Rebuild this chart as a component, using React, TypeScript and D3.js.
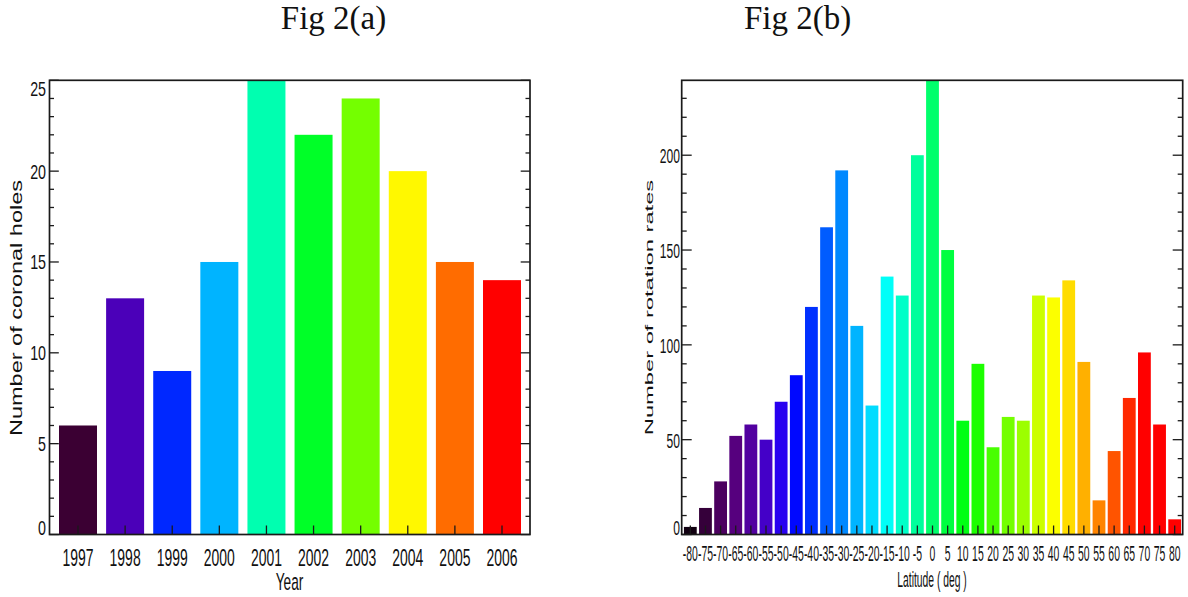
import React from "react";
import * as d3 from "d3";

// ---------- Data ----------
const years = [1997, 1998, 1999, 2000, 2001, 2002, 2003, 2004, 2005, 2006];
const coronalHoles = [6, 13, 9, 15, 25, 22, 24, 20, 15, 14];
const yearColors = [
  "#3b0033", "#4b00b9", "#0028ff", "#00b4ff", "#00ffb0",
  "#00ff28", "#74ff00", "#fff800", "#ff6c00", "#ff0000",
];
const holesMajorTicks = [0, 5, 10, 15, 20, 25];

const latitudes = [
  -80, -75, -70, -65, -60, -55, -50, -45, -40, -35, -30, -25, -20, -15, -10, -5,
  0, 5, 10, 15, 20, 25, 30, 35, 40, 45, 50, 55, 60, 65, 70, 75, 80,
];
const rotationCounts = [
  4, 14, 28, 52, 58, 50, 70, 84, 120, 162, 192, 110, 68, 136, 126, 200,
  240, 150, 60, 90, 46, 62, 60, 126, 125, 134, 91, 18, 44, 72, 96, 58, 8,
];
const latColors = [
  "#110011", "#35003a", "#4c0060", "#56007e", "#5200a0", "#4400c8", "#2800f0", "#0008ff",
  "#0030ff", "#005cff", "#0088ff", "#00b4ff", "#00dcff", "#00fff8", "#00ffc8", "#00ff9c",
  "#00ff6c", "#00ff40", "#00ff14", "#1cff00", "#48ff00", "#74ff00", "#9cff00", "#ccff00",
  "#fcff00", "#ffdc00", "#ffb000", "#ff8400", "#ff5400", "#ff2800", "#ff0000", "#ff0000",
  "#ff0000",
];
const rotMajorTicks = [0, 50, 100, 150, 200];

const SANS = "'Liberation Sans', Arial, Helvetica, sans-serif";
const SERIF = "'Liberation Serif', 'Times New Roman', serif";
const AXIS = "#1a1a1a";

function SText({ x, y, sx = 1, rot = 0, size, anchor = "middle", children, family = SANS }: any) {
  const t = `translate(${x},${y})${rot ? ` rotate(${rot})` : ""} scale(${sx},1)`;
  return (
    <text transform={t} fontSize={size} fontFamily={family} textAnchor={anchor} fill="#111">
      {children}
    </text>
  );
}

function PanelA() {
  const left = 49.5, right = 530, top = 80.3, bottom = 534.5;
  const x = d3.scalePoint<number>().domain(years).range([78, 502]);
  const y = d3.scaleLinear().domain([0, 25]).range([bottom, top]);
  const bw = 38;
  const minor = d3.range(0, 26, 1).filter((v) => v % 5 !== 0);
  return (
    <g>
      {years.map((yr, i) => (
        <rect key={yr} x={x(yr)! - bw / 2} y={y(coronalHoles[i])} width={bw}
          height={y(0) - y(coronalHoles[i])} fill={yearColors[i]} />
      ))}
      {/* frame */}
      <rect x={left} y={top} width={right - left} height={bottom - top} fill="none" stroke={AXIS} strokeWidth={1.7} />
      {/* y ticks */}
      {holesMajorTicks.map((v) => (
        <g key={"M" + v}>
          <line x1={left} x2={left + 9.3} y1={y(v)} y2={y(v)} stroke={AXIS} strokeWidth={1.3} />
          <line x1={right} x2={right - 9.3} y1={y(v)} y2={y(v)} stroke={AXIS} strokeWidth={1.3} />
        </g>
      ))}
      {minor.map((v) => (
        <g key={"m" + v}>
          <line x1={left} x2={left + 4.5} y1={y(v)} y2={y(v)} stroke={AXIS} strokeWidth={1.3} />
          <line x1={right} x2={right - 4.5} y1={y(v)} y2={y(v)} stroke={AXIS} strokeWidth={1.3} />
        </g>
      ))}
      {holesMajorTicks.map((v) => {
        const base = v === 0 ? bottom : v === 25 ? 96 : y(v) + 7.5;
        return (
          <SText key={"l" + v} x={46} y={base} sx={0.68} size={21} anchor="end">{v}</SText>
        );
      })}
      {/* x ticks */}
      {years.map((yr) => (
        <line key={"t" + yr} x1={x(yr)} x2={x(yr)} y1={bottom} y2={bottom - 9} stroke={AXIS} strokeWidth={1.3} />
      ))}
      {years.map((yr) => (
        <SText key={"xl" + yr} x={x(yr)} y={566} sx={0.57} size={24.5}>{yr}</SText>
      ))}
      <SText x={289.5} y={590} sx={0.58} size={23.5}>Year</SText>
      <SText x={21.5} y={308} rot={-90} sx={1.47} size={16}>Number of coronal holes</SText>
      <text x={333.5} y={28.5} fontSize={33} fontFamily={SERIF} textAnchor="middle" fill="#111">Fig 2(a)</text>
    </g>
  );
}

function PanelB() {
  const left = 681.7, right = 1182.7, top = 80.3, bottom = 534.5;
  const x = d3.scaleLinear().domain([-82.85, 82.65]).range([left, right]);
  const y = d3.scaleLinear().domain([0, 239.5]).range([bottom, top]);
  const bw = 12.8;
  const minor = d3.range(0, 240, 10).filter((v) => v % 50 !== 0);
  return (
    <g>
      <defs>
        <clipPath id="clipB">
          <rect x={left} y={top} width={right - left} height={bottom - top} />
        </clipPath>
      </defs>
      <g clipPath="url(#clipB)">
        {latitudes.map((lat, i) => (
          <rect key={lat} x={x(lat) - bw / 2} y={y(rotationCounts[i])} width={bw}
            height={y(0) - y(rotationCounts[i])} fill={latColors[i]} />
        ))}
      </g>
      <rect x={left} y={top} width={right - left} height={bottom - top} fill="none" stroke={AXIS} strokeWidth={1.7} />
      {rotMajorTicks.map((v) => (
        <g key={"M" + v}>
          <line x1={left} x2={left + 10} y1={y(v)} y2={y(v)} stroke={AXIS} strokeWidth={1.3} />
          <line x1={right} x2={right - 10} y1={y(v)} y2={y(v)} stroke={AXIS} strokeWidth={1.3} />
        </g>
      ))}
      {minor.map((v) => (
        <g key={"m" + v}>
          <line x1={left} x2={left + 5} y1={y(v)} y2={y(v)} stroke={AXIS} strokeWidth={1.3} />
          <line x1={right} x2={right - 5} y1={y(v)} y2={y(v)} stroke={AXIS} strokeWidth={1.3} />
        </g>
      ))}
      {rotMajorTicks.map((v) => {
        const base = v === 0 ? bottom : y(v) + 8;
        return (
          <SText key={"l" + v} x={680} y={base} sx={0.62} size={19.5} anchor="end">{v}</SText>
        );
      })}
      {latitudes.map((lat) => (
        <line key={"t" + lat} x1={x(lat)} x2={x(lat)} y1={bottom} y2={bottom - 9} stroke={AXIS} strokeWidth={1.3} />
      ))}
      {latitudes.map((lat) => (
        <SText key={"xl" + lat} x={x(lat)} y={561} sx={0.485} size={21.5}>{lat}</SText>
      ))}
      <SText x={932} y={587} sx={0.48} size={21.5}>Latitude ( deg )</SText>
      <SText x={653.3} y={307.5} rot={-90} sx={2.06} size={11.5}>Number of rotation rates</SText>
      <text x={797.5} y={28.5} fontSize={33} fontFamily={SERIF} textAnchor="middle" fill="#111">Fig 2(b)</text>
    </g>
  );
}

export default function App() {
  return (
    <svg width={1188} height={597} style={{ position: "absolute", left: 0, top: 0, background: "#fff" }}>
      <rect width={1188} height={597} fill="#fff" />
      <PanelA />
      <PanelB />
    </svg>
  );
}
